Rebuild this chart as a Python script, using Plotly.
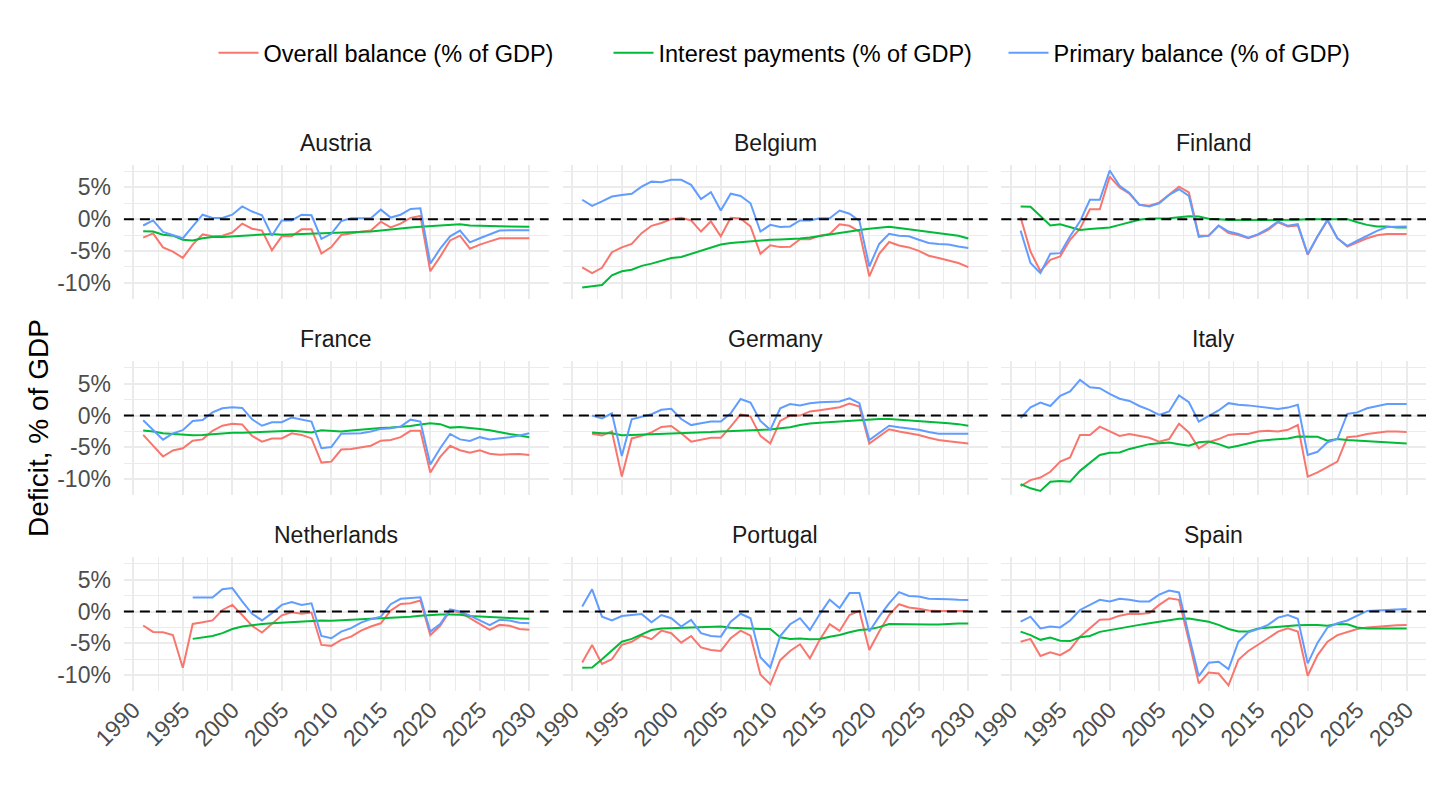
## Fiscal balance facets: overall, interest and primary balance, 1991-2030
import plotly.graph_objects as go

## Data (percent of GDP)
countries = ["Austria", "Belgium", "Finland", "France", "Germany", "Italy",
             "Netherlands", "Portugal", "Spain"]
series_names = ["Overall balance (% of GDP)", "Interest payments (% of GDP)",
                "Primary balance (% of GDP)"]
series_colors = ["#F8766D", "#00BA38", "#619CFF"]
y_ticks = [-10, -5, 0, 5]
y_tick_labels = ["-10%", "-5%", "0%", "5%"]

austria_start = 1991
austria_overall = [-2.9, -2.25, -4.45, -5.1, -6.1, -4.0, -2.4, -2.7, -2.6, -2.1,
                   -0.7, -1.5, -1.8, -4.9, -2.7, -2.7, -1.6, -1.6, -5.4, -4.4,
                   -2.5, -2.2, -2.0, -1.8, -0.4, -1.3, -0.7, 0.2, 0.5, -8.2,
                   -5.9, -3.35, -2.6, -4.65, -4.0, -3.5, -3.0, -3.0, -3.0, -3.0]
austria_interest = [-1.9, -1.95, -2.45, -2.6, -3.25, -3.35, -3.0, -2.8, -2.8, -2.7,
                    -2.65, -2.6, -2.5, -2.35, -2.45, -2.4, -2.3, -2.25, -2.25, -2.25,
                    -2.2, -2.15, -2.05, -1.95, -1.8, -1.6, -1.45, -1.3, -1.2, -1.1,
                    -0.9, -0.8, -0.8, -1.0, -1.0, -1.1, -1.1, -1.15, -1.15, -1.2]
austria_primary = [-1.0, -0.2, -2.0, -2.5, -3.0, -1.15, 0.7, 0.2, 0.2, 0.7,
                   2.0, 1.2, 0.6, -2.6, -0.2, -0.2, 0.7, 0.6, -3.1, -2.3,
                   -0.3, 0.15, 0.15, 0.15, 1.5, 0.25, 0.7, 1.6, 1.7, -7.0,
                   -4.65, -2.7, -1.8, -3.65, -3.0, -2.4, -1.8, -1.75, -1.75, -1.75]

belgium_start = 1991
belgium_overall = [-7.6, -8.5, -7.65, -5.2, -4.45, -3.9, -2.2, -1.05, -0.6, 0.0,
                   0.2, -0.2, -1.95, -0.35, -2.7, 0.2, 0.1, -1.15, -5.45, -4.1,
                   -4.4, -4.35, -3.15, -3.15, -2.6, -2.35, -0.8, -1.05, -1.95, -9.0,
                   -5.45, -3.6, -4.15, -4.45, -5.0, -5.75, -6.1, -6.55, -6.9, -7.55]
belgium_interest = [-10.75, -10.5, -10.35, -8.85, -8.2, -7.95, -7.35, -7.0, -6.5, -6.1,
                    -5.95, -5.45, -4.9, -4.4, -4.0, -3.75, -3.6, -3.5, -3.4, -3.25,
                    -3.2, -3.15, -3.05, -2.9, -2.65, -2.4, -2.1, -1.85, -1.7, -1.5,
                    -1.35, -1.2, -1.4, -1.6, -1.8, -1.95, -2.15, -2.3, -2.6, -3.05]
belgium_primary = [3.05, 2.1, 2.8, 3.55, 3.8, 4.0, 5.1, 5.9, 5.8, 6.2,
                   6.2, 5.4, 3.15, 4.25, 1.35, 4.0, 3.65, 2.5, -1.95, -0.9,
                   -1.25, -1.15, -0.2, -0.2, 0.15, 0.15, 1.35, 0.85, -0.25, -7.45,
                   -3.9, -2.3, -2.6, -2.7, -3.25, -3.75, -3.9, -4.0, -4.3, -4.55]

finland_start = 1991
finland_overall = [0.3, -5.1, -8.2, -6.4, -5.85, -3.25, -1.5, 1.55, 1.55, 6.7,
                   5.0, 4.0, 2.25, 2.1, 2.6, 3.8, 5.1, 4.2, -2.6, -2.6,
                   -1.05, -2.2, -2.5, -3.0, -2.45, -1.7, -0.5, -1.15, -1.0, -5.6,
                   -2.7, -0.2, -3.0, -4.3, -3.65, -3.0, -2.55, -2.35, -2.35, -2.35]
finland_interest = [2.0, 1.95, 0.5, -1.0, -0.8, -1.25, -1.7, -1.55, -1.4, -1.3,
                    -0.9, -0.5, -0.1, 0.1, 0.1, 0.15, 0.3, 0.45, 0.4, 0.05,
                    0.0, -0.15, -0.15, -0.15, -0.2, -0.2, -0.15, -0.15, -0.1, 0.0,
                    0.0, 0.1, 0.1, 0.0, -0.5, -0.9, -1.15, -1.15, -1.3, -1.3]
finland_primary = [-1.8, -6.9, -8.5, -5.45, -5.35, -2.7, -0.35, 3.05, 3.05, 7.65,
                   5.25, 4.1, 2.25, 2.0, 2.5, 3.8, 4.7, 3.65, -2.8, -2.6,
                   -1.0, -1.95, -2.35, -2.9, -2.35, -1.5, -0.35, -1.05, -0.8, -5.5,
                   -2.7, -0.1, -3.0, -4.2, -3.4, -2.6, -1.85, -1.25, -1.15, -1.15]

france_start = 1991
france_overall = [-3.05, -4.75, -6.45, -5.5, -5.15, -3.95, -3.75, -2.4, -1.6, -1.3,
                  -1.4, -3.2, -4.1, -3.6, -3.6, -2.8, -3.05, -3.6, -7.4, -7.25,
                  -5.35, -5.25, -5.0, -4.75, -3.95, -3.85, -3.4, -2.4, -2.4, -8.95,
                  -6.5, -4.75, -5.45, -5.85, -5.45, -6.0, -6.15, -6.15, -6.05, -6.2]
france_interest = [-2.35, -2.5, -2.8, -2.9, -2.9, -3.1, -3.05, -2.9, -2.75, -2.7,
                   -2.7, -2.65, -2.6, -2.5, -2.45, -2.4, -2.5, -2.65, -2.3, -2.4,
                   -2.5, -2.35, -2.2, -2.1, -1.95, -1.9, -1.8, -1.65, -1.4, -1.2,
                   -1.35, -1.9, -1.8, -1.9, -2.1, -2.3, -2.65, -2.9, -3.15, -3.4]
france_primary = [-0.75, -2.25, -3.8, -2.8, -2.3, -0.85, -0.7, 0.5, 1.15, 1.3,
                  1.2, -0.6, -1.6, -1.05, -1.05, -0.3, -0.6, -0.95, -5.15, -4.95,
                  -2.85, -2.8, -2.8, -2.5, -2.1, -2.0, -1.75, -0.65, -0.95, -7.7,
                  -5.15, -2.9, -3.75, -4.0, -3.4, -3.75, -3.6, -3.4, -3.15, -2.8]

germany_start = 1992
germany_overall = [-2.85, -3.15, -2.5, -9.6, -3.6, -3.2, -2.65, -1.8, -1.65, -2.8,
                   -4.1, -3.85, -3.5, -3.5, -1.75, 0.2, -0.15, -3.2, -4.4, -0.85,
                   0.0, 0.0, 0.65, 0.85, 1.1, 1.3, 1.9, 1.4, -4.4, -3.3,
                   -2.15, -2.5, -2.8, -3.05, -3.5, -3.85, -4.05, -4.2, -4.4]
germany_interest = [-2.65, -2.8, -2.8, -3.1, -3.05, -3.0, -3.0, -2.9, -2.85, -2.8,
                    -2.7, -2.65, -2.6, -2.5, -2.45, -2.4, -2.4, -2.35, -2.2, -2.0,
                    -1.85, -1.5, -1.25, -1.15, -1.05, -0.95, -0.85, -0.75, -0.6, -0.55,
                    -0.55, -0.65, -0.75, -0.9, -0.9, -1.05, -1.2, -1.35, -1.6]
germany_primary = [0.0, -0.45, 0.35, -6.35, -0.6, -0.15, 0.2, 0.9, 1.05, -0.55,
                   -1.5, -1.2, -0.95, -0.95, 0.35, 2.6, 2.05, -0.85, -2.25, 1.15,
                   1.8, 1.6, 1.95, 2.1, 2.1, 2.2, 2.7, 1.95, -3.85, -2.7,
                   -1.6, -1.85, -2.0, -2.25, -2.6, -2.85, -2.85, -2.85, -2.85]

italy_start = 1991
italy_overall = [-11.1, -10.15, -9.75, -8.85, -7.25, -6.6, -3.05, -3.05, -1.75, -2.5,
                 -3.2, -2.9, -3.2, -3.5, -4.1, -3.7, -1.3, -2.65, -5.15, -4.2,
                 -3.7, -3.05, -2.9, -2.9, -2.5, -2.4, -2.5, -2.25, -1.5, -9.6,
                 -8.95, -8.15, -7.25, -3.4, -3.25, -2.9, -2.7, -2.5, -2.5, -2.6]
italy_interest = [-10.8, -11.45, -11.85, -10.4, -10.3, -10.4, -8.7, -7.4, -6.2, -5.85,
                  -5.8, -5.25, -4.85, -4.5, -4.35, -4.25, -4.5, -4.75, -4.2, -4.1,
                  -4.5, -5.05, -4.75, -4.35, -4.0, -3.85, -3.7, -3.6, -3.3, -3.3,
                  -3.35, -3.95, -3.7, -3.85, -3.95, -4.1, -4.2, -4.25, -4.35, -4.4]
italy_primary = [-0.4, 1.3, 2.05, 1.5, 3.1, 3.8, 5.6, 4.45, 4.3, 3.4,
                 2.65, 2.3, 1.5, 0.9, 0.1, 0.65, 3.15, 2.1, -0.95, -0.05,
                 0.8, 1.95, 1.7, 1.6, 1.4, 1.15, 1.05, 1.25, 1.7, -6.2,
                 -5.7, -4.2, -3.7, 0.25, 0.5, 1.15, 1.5, 1.8, 1.8, 1.8]

netherlands_start = 1991
netherlands_sub_start = 1996  # interest and primary series begin later
netherlands_overall = [-2.2, -3.2, -3.25, -3.7, -8.85, -1.95, -1.7, -1.4, 0.25, 1.05,
                       -0.55, -2.25, -3.3, -2.0, -0.6, -0.1, -0.35, -0.15, -5.25, -5.4,
                       -4.45, -3.95, -3.0, -2.35, -1.85, 0.15, 1.2, 1.3, 1.75, -3.7,
                       -2.25, 0.15, -0.15, -1.05, -2.0, -2.9, -2.1, -2.25, -2.75, -2.85]
netherlands_interest = [-4.3, -4.05, -3.85, -3.4, -2.75, -2.35, -2.1, -1.95, -1.85, -1.75,
                        -1.6, -1.6, -1.5, -1.4, -1.45, -1.4, -1.3, -1.25, -1.15, -1.05,
                        -1.0, -0.9, -0.8, -0.65, -0.5, -0.45, -0.45, -0.5, -0.7, -0.8,
                        -0.9, -0.95, -1.0, -1.1, -1.15]
netherlands_primary = [2.2, 2.2, 2.2, 3.5, 3.7, 1.6, -0.35, -1.4, -0.25, 1.05,
                       1.5, 1.05, 1.3, -3.85, -4.2, -3.15, -2.6, -1.75, -1.2, -0.8,
                       1.15, 2.0, 2.1, 2.25, -3.15, -1.95, 0.35, 0.0, -0.65, -1.4,
                       -2.15, -1.3, -1.4, -1.75, -1.85]

portugal_start = 1991
portugal_overall = [-8.0, -5.25, -8.25, -7.5, -5.25, -4.75, -3.8, -4.35, -3.0, -3.4,
                    -4.9, -3.85, -5.65, -6.05, -6.2, -4.2, -3.0, -3.8, -9.9, -11.45,
                    -7.65, -6.2, -5.15, -7.35, -4.45, -2.0, -3.05, -0.55, 0.1, -6.05,
                    -3.15, -0.55, 1.15, 0.65, 0.45, 0.15, 0.1, 0.1, 0.1, 0.1]
portugal_interest = [-8.85, -8.8, -7.5, -6.2, -4.75, -4.3, -3.6, -2.9, -2.65, -2.6,
                     -2.6, -2.55, -2.4, -2.35, -2.35, -2.55, -2.65, -2.75, -2.75, -2.75,
                     -4.05, -4.3, -4.25, -4.35, -4.3, -3.95, -3.7, -3.25, -2.9, -2.8,
                     -2.45, -1.95, -2.0, -1.95, -2.0, -2.05, -2.05, -1.95, -1.9, -1.9]
portugal_primary = [0.8, 3.5, -0.8, -1.4, -0.7, -0.55, -0.4, -1.7, -0.55, -1.05,
                    -2.35, -1.3, -3.4, -3.85, -3.95, -1.6, -0.35, -1.05, -7.2, -8.8,
                    -3.85, -2.0, -1.05, -2.9, -0.4, 1.85, 0.55, 2.9, 2.9, -3.15,
                    -0.8, 1.3, 3.05, 2.45, 2.35, 2.0, 2.0, 1.95, 1.85, 1.8]

spain_start = 1991
spain_overall = [-4.75, -4.3, -7.0, -6.4, -6.85, -5.95, -3.95, -2.65, -1.3, -1.2,
                 -0.65, -0.35, -0.4, -0.25, 1.05, 2.1, 1.85, -4.6, -11.3, -9.6,
                 -9.75, -11.6, -7.6, -6.2, -5.25, -4.2, -3.15, -2.65, -3.15, -10.1,
                 -6.85, -4.75, -3.7, -3.25, -2.75, -2.5, -2.35, -2.25, -2.15, -2.1]
spain_interest = [-3.15, -3.7, -4.45, -4.1, -4.6, -4.65, -4.05, -3.85, -3.2, -2.9,
                  -2.65, -2.35, -2.1, -1.85, -1.6, -1.3, -1.15, -1.1, -1.4, -1.6,
                  -2.1, -2.75, -3.15, -3.15, -2.65, -2.5, -2.35, -2.25, -2.15, -2.1,
                  -2.1, -2.25, -1.95, -2.0, -2.5, -2.65, -2.65, -2.65, -2.65, -2.65]
spain_primary = [-1.6, -0.8, -2.65, -2.35, -2.5, -1.4, 0.25, 1.05, 1.85, 1.6,
                 2.0, 1.85, 1.6, 1.6, 2.65, 3.3, 3.0, -3.8, -10.15, -8.05,
                 -7.9, -9.05, -4.75, -3.25, -2.75, -2.1, -0.95, -0.55, -1.15, -8.15,
                 -4.9, -2.5, -1.85, -1.4, -0.65, 0.1, 0.15, 0.25, 0.35, 0.4]

#-------------------------------------------------------------------------------
## Group the series per panel: (start year of each series, values)
panels = [
    [(austria_start, austria_overall), (austria_start, austria_interest),
     (austria_start, austria_primary)],
    [(belgium_start, belgium_overall), (belgium_start, belgium_interest),
     (belgium_start, belgium_primary)],
    [(finland_start, finland_overall), (finland_start, finland_interest),
     (finland_start, finland_primary)],
    [(france_start, france_overall), (france_start, france_interest),
     (france_start, france_primary)],
    [(germany_start, germany_overall), (germany_start, germany_interest),
     (germany_start, germany_primary)],
    [(italy_start, italy_overall), (italy_start, italy_interest),
     (italy_start, italy_primary)],
    [(netherlands_start, netherlands_overall),
     (netherlands_sub_start, netherlands_interest),
     (netherlands_sub_start, netherlands_primary)],
    [(portugal_start, portugal_overall), (portugal_start, portugal_interest),
     (portugal_start, portugal_primary)],
    [(spain_start, spain_overall), (spain_start, spain_interest),
     (spain_start, spain_primary)],
]

#-------------------------------------------------------------------------------
## Layout geometry. The page body has an 8px margin, so the figure is
## 1432x802 and every screen position is shifted back by 8px.
OFF = 8
W, H = 1440 - OFF, 810 - OFF
col_px = [(123.9, 548.6), (562.9, 987.6), (1001.3, 1426.0)]
row_px = [(164.8, 298.6), (361.2, 495.0), (557.2, 691.0)]
font = "Liberation Sans, Arial, Helvetica, sans-serif"
grid = "#EBEBEB"

def fx(px):
    return (px - OFF) / W

def fy(px):
    return 1 - (px - OFF) / H

fig = go.Figure()
layout = {}
for i, name in enumerate(countries):
    r, c = divmod(i, 3)
    n = "" if i == 0 else str(i + 1)
    for k, (start, vals) in enumerate(panels[i]):
        fig.add_trace(go.Scatter(
            x=list(range(start, start + len(vals))), y=vals,
            mode="lines", name=series_names[k],
            line=dict(color=series_colors[k], width=2),
            legendgroup=series_names[k], showlegend=(i == 0),
            xaxis="x" + n, yaxis="y" + n))
    layout["xaxis" + n] = dict(
        domain=[fx(col_px[c][0]), fx(col_px[c][1])], anchor="y" + n,
        range=[1989.05, 2031.95], tickmode="linear", tick0=1990, dtick=5,
        showticklabels=(r == 2), tickangle=-45, ticks="", automargin=False,
        tickfont=dict(size=23, color="#4D4D4D"),
        showgrid=True, gridcolor=grid, gridwidth=2, zeroline=False,
        minor=dict(tick0=1990, dtick=2.5, showgrid=True, gridcolor=grid,
                   gridwidth=1))
    layout["yaxis" + n] = dict(
        domain=[fy(row_px[r][1]), fy(row_px[r][0])], anchor="x" + n,
        range=[-12.5, 8.55], tickmode="array", tickvals=y_ticks,
        ticktext=y_tick_labels, showticklabels=(c == 0), ticks="",
        automargin=False, ticklabelstandoff=12,
        tickfont=dict(size=23, color="#4D4D4D"),
        showgrid=True, gridcolor=grid, gridwidth=2, zeroline=False,
        minor=dict(tick0=0, dtick=2.5, showgrid=True, gridcolor=grid,
                   gridwidth=1))
    # Dashed reference line at zero
    fig.add_shape(type="line", xref="x" + n + " domain", yref="y" + n,
        x0=0, x1=1, y0=0, y1=0, line=dict(color="black", width=2,
        dash="10px,6px"), layer="above")
    # Facet strip title
    fig.add_annotation(text=name, xref="x" + n + " domain",
        yref="y" + n + " domain", x=0.5, y=1, yanchor="middle", yshift=22,
        showarrow=False, font=dict(size=23, color="#1A1A1A"))

fig.add_annotation(text="Deficit, % of GDP", xref="paper", yref="paper",
    x=fx(38), y=fy(428), xanchor="center", yanchor="middle", textangle=-90,
    showarrow=False, font=dict(size=28, color="black"))

fig.update_layout(**layout)
fig.update_layout(
    width=W, height=H, margin=dict(l=0, r=0, t=0, b=0, autoexpand=False),
    paper_bgcolor="white", plot_bgcolor="white",
    font=dict(family=font, color="black"),
    legend=dict(orientation="h", x=fx(806), xanchor="center",
        y=fy(53), yanchor="middle", font=dict(size=23.5),
        itemwidth=40, entrywidth=340, entrywidthmode="pixels",
        traceorder="normal"))
fig.write_html("out.html")
